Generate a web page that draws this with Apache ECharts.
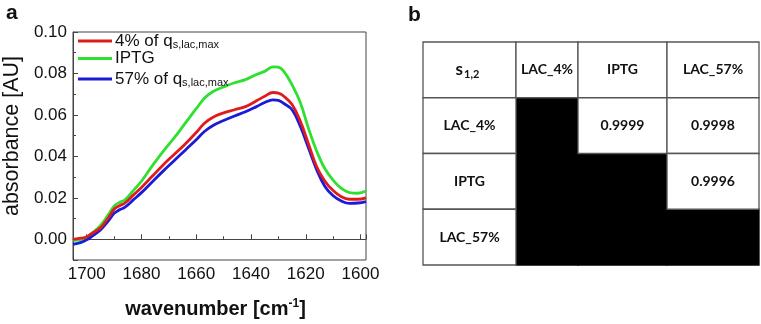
<!DOCTYPE html>
<html><head><meta charset="utf-8">
<script src="https://cdn.jsdelivr.net/npm/echarts@6/dist/echarts.min.js"></script>
<style>html,body{margin:0;padding:0;background:#fff}#c{width:761px;height:324px}</style>
</head><body><div id="c"></div>
<script>
// ---- data ----
const wavenumbers = [1705,1702,1700,1698,1695,1692,1690,1688,1686,1683,1680,1676,1672,1668,1664,1660,1657,1654,1650,1646,1642,1638,1635,1632,1630,1628,1625,1622,1619,1616,1613,1610,1607,1604,1601,1598];
const absLac4 = [0.0,0.0005,0.0012,0.003,0.0055,0.0105,0.0145,0.0162,0.0175,0.0213,0.025,0.0305,0.036,0.041,0.046,0.0515,0.056,0.0588,0.061,0.0625,0.064,0.0668,0.069,0.0708,0.0705,0.069,0.065,0.057,0.046,0.035,0.028,0.0235,0.0205,0.0193,0.0193,0.020];
const absIptg = [-0.0005,0.0,0.001,0.003,0.0065,0.012,0.016,0.0178,0.019,0.0235,0.028,0.0355,0.0425,0.049,0.056,0.063,0.068,0.0712,0.0735,0.0755,0.077,0.0795,0.081,0.0832,0.083,0.081,0.0745,0.066,0.0535,0.0425,0.034,0.0285,0.0245,0.0225,0.0222,0.0233];
const absLac57 = [-0.0025,-0.0015,-0.0003,0.0015,0.0045,0.009,0.0125,0.0142,0.0155,0.019,0.0225,0.0278,0.033,0.038,0.043,0.048,0.052,0.0548,0.0573,0.0595,0.0615,0.064,0.066,0.0673,0.067,0.0655,0.0625,0.0545,0.044,0.0335,0.0255,0.021,0.0185,0.0173,0.0175,0.0182];
const seriesNames = ['4% of q', 'IPTG', '57% of q'];
const seriesSubs = ['s,lac,max', '', 's,lac,max'];
const tableLabels = ['LAC_4%', 'IPTG', 'LAC_57%'];
const tableCorner = ['s', '1,2'];
const similarity = [
  [null, 0.9999, 0.9998],
  [null, null, 0.9996],
  [null, null, null]
];

// ---- layout / styles ----
const colors = ['#e01b1b', '#2fe02f', '#1a1ad8'];
const colEdges = [0, 93, 155, 244, 336];
const FONT = 'Liberation Sans, Arial, sans-serif';
const TFONT = 'Lato, Open Sans, sans-serif';

function pairs(ys) { return wavenumbers.map((w, i) => [w, ys[i]]); }
const seriesData = [absLac4, absIptg, absLac57];

// table cells
const cells = [];
cells.push({c: 0, r: 0, corner: true, black: false});
tableLabels.forEach((l, j) => cells.push({c: j + 1, r: 0, text: l, black: false}));
tableLabels.forEach((l, i) => {
  cells.push({c: 0, r: i + 1, text: l, black: false});
  similarity[i].forEach((v, j) => {
    cells.push({c: j + 1, r: i + 1, text: v == null ? '' : v.toFixed(4), black: v == null});
  });
});
cells.sort((a, b) => (b.black ? 1 : 0) - (a.black ? 1 : 0));

const chart = echarts.init(document.getElementById('c'), null, {renderer: 'canvas'});
const subMap = {};
seriesNames.forEach((n, i) => subMap[n] = seriesSubs[i]);

const option = {
  backgroundColor: '#fff',
  animation: false,
  title: [
    {text: 'a', left: 1, top: -2, textStyle: {fontFamily: FONT, fontSize: 21, fontWeight: 'bold', color: '#111'}},
    {text: 'b', left: 403, top: 0, textStyle: {fontFamily: FONT, fontSize: 21, fontWeight: 'bold', color: '#111'}}
  ],
  legend: {
    orient: 'vertical', left: 73, top: 24, itemWidth: 34, itemHeight: 3, itemGap: 0,
    icon: 'rect',
    data: seriesNames,
    formatter: n => subMap[n] ? `{m|${n}}{s|${subMap[n]}}` : `{m|${n}}`,
    textStyle: {
      padding: [0, 0, 0, -2],
      rich: {
        m: {fontFamily: FONT, fontSize: 17, color: '#111', lineHeight: 18},
        s: {fontFamily: FONT, fontSize: 11, color: '#111', lineHeight: 11, padding: [10, 0, 0, 0], verticalAlign: 'bottom'}
      }
    }
  },
  grid: [
    {left: 69, top: 32, width: 297, height: 239, show: true, borderColor: '#444', borderWidth: 1, containLabel: false},
    {left: 423, top: 42, width: 336, height: 223, show: false}
  ],
  xAxis: [
    {
      gridIndex: 0, type: 'value', inverse: true, min: 1598, max: 1705, splitNumber: 5,
      name: '{b|wavenumber [cm}{sup|-1}{b|]}', nameLocation: 'middle', nameGap: 38,
      nameTextStyle: {
        padding: [0, 8, 0, 0],
        rich: {
          b: {fontFamily: FONT, fontSize: 20, fontWeight: 'bold', color: '#111'},
          sup: {fontFamily: FONT, fontSize: 12, fontWeight: 'bold', color: '#111', padding: [0, 0, 10, 0]}
        }
      },
      axisLine: {lineStyle: {color: '#444', width: 1}},
      axisTick: {inside: true, length: 5, lineStyle: {color: '#444'}},
      minorTick: {show: true, splitNumber: 2, length: 3, lineStyle: {color: '#444'}},
      axisLabel: {fontFamily: FONT, fontSize: 17, color: '#111', margin: 6, showMinLabel: false, showMaxLabel: false,
        formatter: v => String(v)},
      splitLine: {show: false}
    },
    {gridIndex: 1, type: 'value', min: 0, max: 336, show: false}
  ],
  yAxis: [
    {
      gridIndex: 0, type: 'value', min: -0.01, max: 0.10, splitNumber: 5,
      name: 'absorbance [AU]', nameLocation: 'middle', nameGap: 50,
      nameTextStyle: {fontFamily: FONT, fontSize: 21.5, color: '#111', padding: [0, 0, 0, 20]},
      axisLine: {show: true, lineStyle: {color: '#444', width: 1}},
      axisTick: {show: true, inside: true, length: 5, lineStyle: {color: '#444'}},
      minorTick: {show: true, splitNumber: 2, length: 3, lineStyle: {color: '#444'}},
      axisLabel: {fontFamily: FONT, fontSize: 17, color: '#111', margin: 6, showMinLabel: false,
        formatter: v => v.toFixed(2)},
      splitLine: {show: false}
    },
    {gridIndex: 1, type: 'value', min: 0, max: 4, inverse: true, show: false}
  ],
  series: [
    ...seriesNames.map((n, i) => ({
      name: n, type: 'line', xAxisIndex: 0, yAxisIndex: 0,
      data: pairs(seriesData[i]), smooth: 0.4, symbol: 'none',
      lineStyle: {color: colors[i], width: 2.8}, itemStyle: {color: colors[i]},
      z: i === 1 ? 1 : (i === 0 ? 3 : 2)
    })),
    {
      type: 'custom', xAxisIndex: 1, yAxisIndex: 1,
      data: cells.map(c => [c.c, c.r]),
      renderItem: (params, api) => {
        const cell = cells[params.dataIndex];
        const c = api.value(0), r = api.value(1);
        const p0 = api.coord([colEdges[c], r]);
        const p1 = api.coord([colEdges[c + 1], r + 1]);
        const cx = (p0[0] + p1[0]) / 2, cy = (p0[1] + p1[1]) / 2;
        const children = [{
          type: 'rect',
          shape: {x: p0[0], y: p0[1], width: p1[0] - p0[0], height: p1[1] - p0[1]},
          style: {fill: cell.black ? '#000' : '#fff', stroke: cell.black ? '#000' : '#555', lineWidth: 1.3}
        }];
        if (cell.corner) {
          children.push({type: 'text', style: {
            text: `{s|${tableCorner[0]}}{u|${tableCorner[1]}}`, x: cx - 2, y: cy,
            align: 'center', verticalAlign: 'middle',
            rich: {
              s: {fontFamily: TFONT, fontSize: 17, fontWeight: 'bold', fill: '#111', lineHeight: 20},
              u: {fontFamily: TFONT, fontSize: 11, fontWeight: 'bold', fill: '#111', lineHeight: 11, padding: [9, 0, 0, 1], verticalAlign: 'bottom'}
            }
          }});
        } else if (cell.text) {
          children.push({type: 'text', style: {
            text: cell.text, x: cx, y: cy, align: 'center', verticalAlign: 'middle',
            font: `bold 14px ${TFONT}`, fill: '#111'
          }});
        }
        return {type: 'group', children};
      },
      z: 5
    }
  ]
};
chart.setOption(option);
</script>
</body></html>
